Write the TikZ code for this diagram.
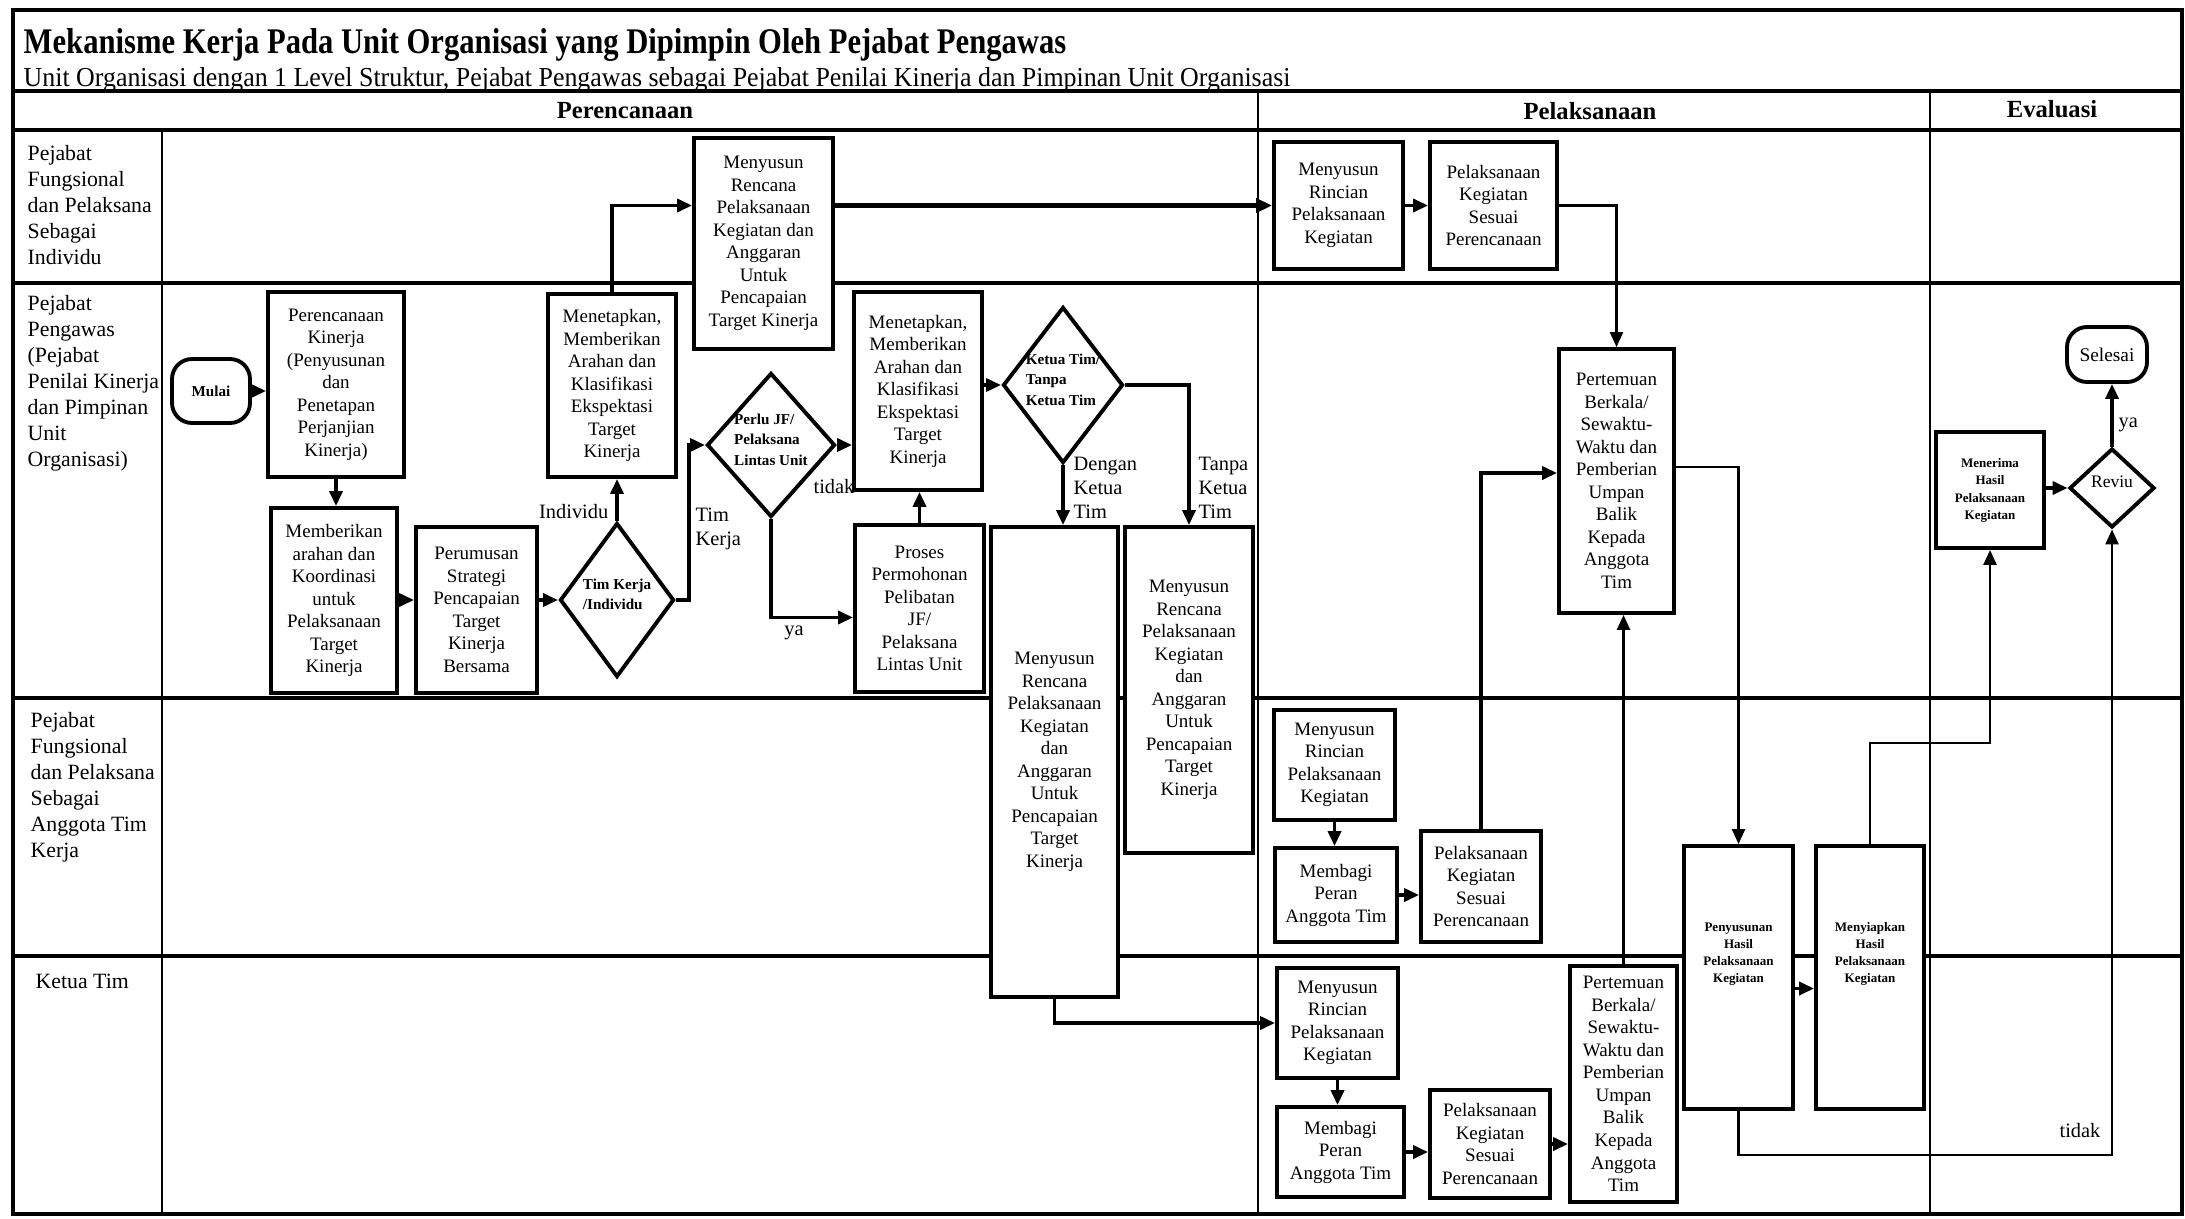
\documentclass[tikz,border=0pt]{standalone}
\usepackage{graphicx}
\usepackage{fontspec}
\setmainfont{Liberation Serif}
\usetikzlibrary{arrows.meta,shapes.geometric,calc}
\newcommand\pbox[7]{%
  \pgfmathsetmacro\bw{(#5-#3)*0.01}%
  \pgfmathsetmacro\bh{(#6-#4)*0.01}%
  \pgfmathsetmacro\bcx{(#3+#5)/2}%
  \pgfmathsetmacro\bcy{(#4+#6)/2}%
  \node[#1, minimum width=\bw cm, minimum height=\bh cm] (#2) at (\bcx,\bcy) {#7};}
\newcommand\zt[1]{\makebox[0pt]{\smash{\begin{tabular}{@{}l@{}}#1\end{tabular}}}}
\newcommand\rt[2]{\raisebox{#1}{\begin{tabular}{@{}c@{}}#2\end{tabular}}}
\begin{document}
\begin{tikzpicture}[x=0.01cm,y=-0.01cm,
  pbox/.style={draw, fill=white, line width=1.1pt, align=center, inner sep=1pt,
    font=\fontsize{5.4}{6.4}\selectfont},
  tinybox/.style={pbox, font=\bfseries\fontsize{3.7}{4.9}\selectfont},
  dia/.style={draw, fill=white, diamond, line width=1.1pt, inner sep=0pt,
    font=\bfseries\fontsize{4.3}{5.8}\selectfont},
  term/.style={draw, fill=white, rounded corners=0.2cm, line width=1.1pt,
    align=center, inner sep=1pt},
  arr/.style={line width=1pt, -{Triangle[length=0.15cm,width=0.13cm]}},
  tarr/.style={line width=0.7pt, -{Triangle[length=0.15cm,width=0.13cm]}},
  lanel/.style={line width=0.9pt},
  sepl/.style={line width=0.6pt},
  lbl/.style={font=\fontsize{5.8}{6.9}\selectfont, align=left, inner sep=0pt},
  lanetxt/.style={font=\fontsize{6.2}{7.4}\selectfont, align=left, inner sep=0pt, anchor=west},
  hdr/.style={font=\bfseries\fontsize{7}{8}\selectfont, inner sep=0pt}]
\useasboundingbox (0,0) rectangle (2185,1218);
\fill[white] (0,0) rectangle (2185,1218);

% frame
\draw[line width=1pt] (13,10) rectangle (2182,1214);
\draw[line width=1pt] (13,91) -- (2182,91);
\draw[line width=1pt] (13,130) -- (2182,130);
\draw[sepl] (162,130) -- (162,1214);
\draw[sepl] (1258,91) -- (1258,1214);
\draw[sepl] (1930,91) -- (1930,1214);
\draw[lanel] (13,283) -- (2182,283);
\draw[lanel] (13,698) -- (2182,698);
\draw[lanel] (13,956) -- (2182,956);

% titles
\node[anchor=base west, inner sep=0pt] (title) at (23,53)
  {\resizebox{10.42cm}{0.25cm}{\bfseries Mekanisme Kerja Pada Unit Organisasi yang Dipimpin Oleh Pejabat Pengawas}};
\node[anchor=base west, inner sep=0pt] (subtitle) at (23,86)
  {\resizebox{12.66cm}{0.19cm}{Unit Organisasi dengan 1 Level Struktur, Pejabat Pengawas sebagai Pejabat Penilai Kinerja dan Pimpinan Unit Organisasi}};
\node[hdr] (h1) at (625,111) {Perencanaan};
\node[hdr] (h2) at (1590,111) {Pelaksanaan};
\node[hdr] (h3) at (2052,109) {Evaluasi};

% lane labels
\node[lanetxt] (l1) at (27,205) {Pejabat\\Fungsional\\dan Pelaksana\\Sebagai\\Individu};
\node[lanetxt] (l2) at (27,383) {Pejabat\\Pengawas\\(Pejabat\\Penilai Kinerja\\dan Pimpinan\\Unit\\Organisasi)};
\node[lanetxt] (l3) at (30,787) {Pejabat\\Fungsional\\dan Pelaksana\\Sebagai\\Anggota Tim\\Kerja};
\node[lanetxt] (l4) at (35,981) {Ketua Tim};

% Perencanaan nodes
\pbox{term, font=\bfseries\fontsize{4.3}{5}\selectfont}{mulai}{172}{359}{250}{423}{Mulai}
\pbox{pbox}{pk}{268}{292}{404}{477}{Perencanaan\\Kinerja\\(Penyusunan\\dan\\Penetapan\\Perjanjian\\Kinerja)}
\pbox{pbox}{mk}{271}{508}{397}{693}{Memberikan\\arahan dan\\Koordinasi\\untuk\\Pelaksanaan\\Target\\Kinerja}
\pbox{pbox}{per}{416}{527}{537}{693}{Perumusan\\Strategi\\Pencapaian\\Target\\Kinerja\\Bersama}
\node[dia, minimum width=1.14cm, minimum height=1.54cm] (tk) at (617,600) {\zt{Tim Kerja\\/Individu}};
\pbox{pbox}{m1}{548}{294}{676}{477}{Menetapkan,\\Memberikan\\Arahan dan\\Klasifikasi\\Ekspektasi\\Target\\Kinerja}
\pbox{pbox}{r1}{694}{138}{833}{349}{Menyusun\\Rencana\\Pelaksanaan\\Kegiatan dan\\Anggaran\\Untuk\\Pencapaian\\Target Kinerja}
\node[dia, minimum width=1.28cm, minimum height=1.44cm] (pj) at (771,445) {\zt{Perlu JF/\\Pelaksana\\Lintas Unit}};
\pbox{pbox}{m2}{854}{292}{982}{490}{Menetapkan,\\Memberikan\\Arahan dan\\Klasifikasi\\Ekspektasi\\Target\\Kinerja}
\pbox{pbox}{pp}{855}{525}{984}{692}{Proses\\Permohonan\\Pelibatan\\JF/\\Pelaksana\\Lintas Unit}
\node[dia, minimum width=1.2cm, minimum height=1.56cm] (kt) at (1063,385) {\zt{Ketua Tim/\\Tanpa\\Ketua Tim}};
\pbox{pbox}{dg}{991}{527}{1118}{997}{Menyusun\\Rencana\\Pelaksanaan\\Kegiatan\\dan\\Anggaran\\Untuk\\Pencapaian\\Target\\Kinerja}
\pbox{pbox}{tp}{1125}{527}{1253}{853}{Menyusun\\Rencana\\Pelaksanaan\\Kegiatan\\dan\\Anggaran\\Untuk\\Pencapaian\\Target\\Kinerja}

% Pelaksanaan nodes
\pbox{pbox}{mr1}{1274}{142}{1403}{269}{Menyusun\\Rincian\\Pelaksanaan\\Kegiatan}
\pbox{pbox}{pl1}{1430}{142}{1557}{269}{Pelaksanaan\\Kegiatan\\Sesuai\\Perencanaan}
\pbox{pbox}{pt2}{1559}{349}{1674}{613}{Pertemuan\\Berkala/\\Sewaktu-\\Waktu dan\\Pemberian\\Umpan\\Balik\\Kepada\\Anggota\\Tim}
\pbox{pbox}{mr3}{1274}{710}{1395}{820}{Menyusun\\Rincian\\Pelaksanaan\\Kegiatan}
\pbox{pbox}{mb3}{1275}{848}{1397}{942}{Membagi\\Peran\\Anggota Tim}
\pbox{pbox}{pl3}{1421}{831}{1541}{942}{Pelaksanaan\\Kegiatan\\Sesuai\\Perencanaan}
\pbox{pbox}{mr4}{1277}{968}{1398}{1078}{Menyusun\\Rincian\\Pelaksanaan\\Kegiatan}
\pbox{pbox}{mb4}{1277}{1107}{1404}{1197}{Membagi\\Peran\\Anggota Tim}
\pbox{pbox}{pl4}{1430}{1090}{1550}{1198}{Pelaksanaan\\Kegiatan\\Sesuai\\Perencanaan}
\pbox{pbox}{pt4}{1570}{966}{1677}{1202}{Pertemuan\\Berkala/\\Sewaktu-\\Waktu dan\\Pemberian\\Umpan\\Balik\\Kepada\\Anggota\\Tim}
\pbox{tinybox}{ph}{1684}{846}{1793}{1109}{\rt{0.78cm}{Penyusunan\\Hasil\\Pelaksanaan\\Kegiatan}}
\pbox{tinybox}{mh}{1816}{846}{1924}{1109}{\rt{0.78cm}{Menyiapkan\\Hasil\\Pelaksanaan\\Kegiatan}}

% Evaluasi nodes
\pbox{tinybox}{mn}{1936}{432}{2044}{548}{\rt{0.2cm}{Menerima\\Hasil\\Pelaksanaan\\Kegiatan}}
\node[dia, font=\fontsize{5}{6}\selectfont, minimum width=0.85cm, minimum height=0.79cm] (rv) at (2112,488) {\zt{Reviu}};
\pbox{term, font=\fontsize{5.5}{6.5}\selectfont}{sl}{2067}{327}{2147}{382}{Selesai}

% connectors - Perencanaan
\draw[arr] (mulai.east) -- (mulai.east -| pk.west);
\draw[arr] (pk.south) -- (pk.south |- mk.north);
\draw[arr] (mk.east |- tk) -- (per.west |- tk);
\draw[arr] (per.east |- tk) -- (tk.west);
\draw[arr] (tk.north) -- (tk.north |- m1.south);
\node[lbl, anchor=east] (lind) at (609,512) {Individu};
\draw[arr] (m1.north) |- (r1.west |- mr1.west);
\draw[arr] (tk.east) -- ++(13,0) |- (pj.west);
\node[lbl, anchor=west] (ltk) at (695,529) {Tim\\Kerja};
\draw[arr] (pj.east) -- (pj.east -| m2.west);
\node[lbl] (ltidak1) at (834,487) {tidak};
\draw[arr] (pj.south) |- ($(pp.west)+(0,9)$);
\node[lbl] (lya1) at (794,633) {ya};
\draw[arr] (pp.north) -- (pp.north |- m2.south);
\draw[arr] (m2.east |- kt) -- (kt.west);
\draw[arr] (kt.south) -- (kt.south |- dg.north);
\node[lbl, anchor=west, font=\fontsize{5.8}{6.8}\selectfont] (ldg) at (1073,488) {Dengan\\Ketua\\Tim};
\draw[arr] (kt.east) -| (tp.north);
\node[lbl, anchor=west, font=\fontsize{5.8}{6.8}\selectfont] (ltp) at (1198,488) {Tanpa\\Ketua\\Tim};

% connectors - Pelaksanaan
\draw[line width=1.6pt, -{Triangle[length=0.16cm,width=0.14cm]}] (mr1.west -| r1.east) -- (mr1.west);
\draw[arr] (mr1) -- (pl1);
\draw[tarr] (pl1.east) -| (pt2.north);
\draw[arr] (dg.south) |- (mr4.west);
\draw[arr] (pl3.north) |- ($(pt2.west)+(0,-8)$);
\draw[tarr] ($(pt2.east)+(0,-14)$) -| (ph.north);
\draw[tarr] (pt4.north) -- (pt4.north |- pt2.south);
\draw[arr] (mr3.south) -- (mr3.south |- mb3.north);
\draw[arr] (mb3.east) -- (mb3.east -| pl3.west);
\draw[arr] (mr4.south) -- (mr4.south |- mb4.north);
\draw[arr] (mb4.east) -- (mb4.east -| pl4.west);
\draw[arr] (pl4.east) -- (pl4.east -| pt4.west);
\draw[arr] ($(ph.east)+(0,11)$) -- ($(mh.west)+(0,11)$);

% connectors - Evaluasi
\draw[tarr] (mh.north) -- ++(0,-101) -| (mn.south);
\draw[arr] (mn.east |- rv) -- (rv.west);
\draw[arr] (rv.north) -- (rv.north |- sl.south);
\node[lbl, anchor=west] (lya2) at (2118,425) {ya};
\draw[tarr] (ph.south) -- ++(0,44) -| (rv.south);
\node[lbl] (ltidak2) at (2080,1131) {tidak};
\end{tikzpicture}
\end{document}
